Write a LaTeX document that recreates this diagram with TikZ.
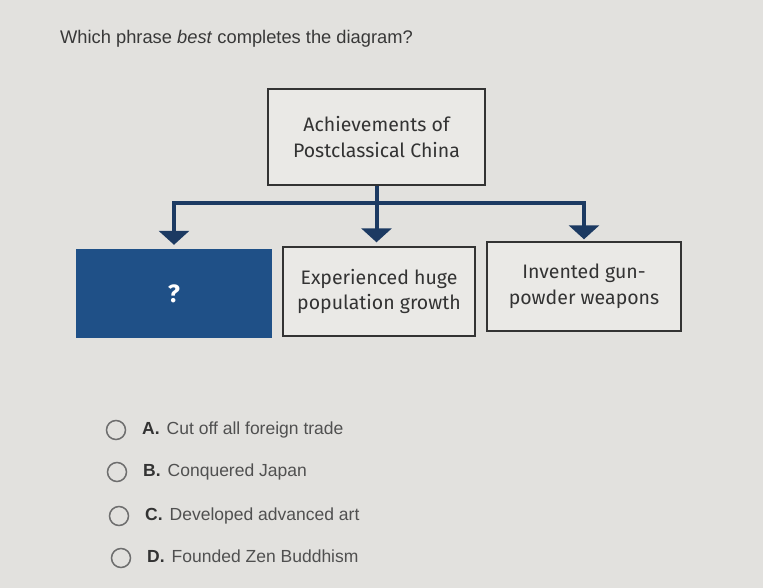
\documentclass[tikz,border=0pt]{standalone}
\usepackage{fontspec}
\setmainfont{Liberation Sans}
\newfontfamily\diagfont{Fira Sans}
\usetikzlibrary{arrows.meta}
\definecolor{bgc}{RGB}{226,225,222}
\definecolor{boxbg}{RGB}{234,233,230}
\definecolor{navy}{RGB}{28,58,98}
\definecolor{qblue}{RGB}{31,80,135}
\definecolor{txtgrey}{RGB}{80,80,80}
\definecolor{circgrey}{RGB}{110,110,110}
\tikzset{
  box/.style={draw=black!80, line width=1.4pt, fill=boxbg, inner sep=0pt, align=center,
    font=\diagfont\fontsize{19.5}{25.5}\selectfont, text=black!80},
  qbox/.style={fill=qblue, inner sep=0pt, text=white, font=\diagfont\bfseries\fontsize{25}{28}\selectfont},
  conn/.style={draw=navy, line width=4pt, line join=miter, -{Triangle[width=30pt,length=14pt]}},
  radio/.style={circle, draw=circgrey, line width=1.5pt, minimum size=19pt, inner sep=0pt},
  opt/.style={anchor=base west, inner sep=0pt, font=\fontsize{17.5}{20}\selectfont, text=txtgrey},
}
\begin{document}
\begin{tikzpicture}[x=1pt,y=1pt]
\useasboundingbox[fill=bgc] (0,0) rectangle (763,-588);
\node[anchor=base west, inner sep=0pt, font=\fontsize{18.3}{21}\selectfont, text=black!78] (title) at (60,-44) {Which phrase \textit{best} completes the diagram?};
\node[box, minimum width=217pt, minimum height=96pt] (top) at (376.5,-137) {Achievements of\\Postclassical China};
\node[qbox, minimum width=196pt, minimum height=89pt] (q) at (174,-293.5) {?};
\node[box, minimum width=192pt, minimum height=89pt] (mid) at (379,-291.5) {Experienced huge\\population growth};
\node[box, minimum width=194pt, minimum height=89pt] (right) at (584,-286.5) {Invented gun-\\powder weapons};
\coordinate (j) at (376.5,-203);
\draw[conn, shorten >=4pt] (top.south) -- (j) -| (q.north);
\draw[conn, shorten >=4pt] (top.south) -- (top.south |- mid.north);
\draw[conn, shorten >=2pt] (top.south) -- (j) -| (right.north);
\node[radio] (ra) at (116,-430) {};
\node[opt] (oa) at (142,-434) {\textbf{\color{black!80}A.}\hspace{7pt}Cut off all foreign trade};
\node[radio] (rb) at (117,-472) {};
\node[opt] (ob) at (143,-476) {\textbf{\color{black!80}B.}\hspace{7pt}Conquered Japan};
\node[radio] (rc) at (119,-516) {};
\node[opt] (oc) at (145,-520) {\textbf{\color{black!80}C.}\hspace{7pt}Developed advanced art};
\node[radio] (rd) at (121,-558) {};
\node[opt] (od) at (147,-562) {\textbf{\color{black!80}D.}\hspace{7pt}Founded Zen Buddhism};
\end{tikzpicture}
\end{document}
